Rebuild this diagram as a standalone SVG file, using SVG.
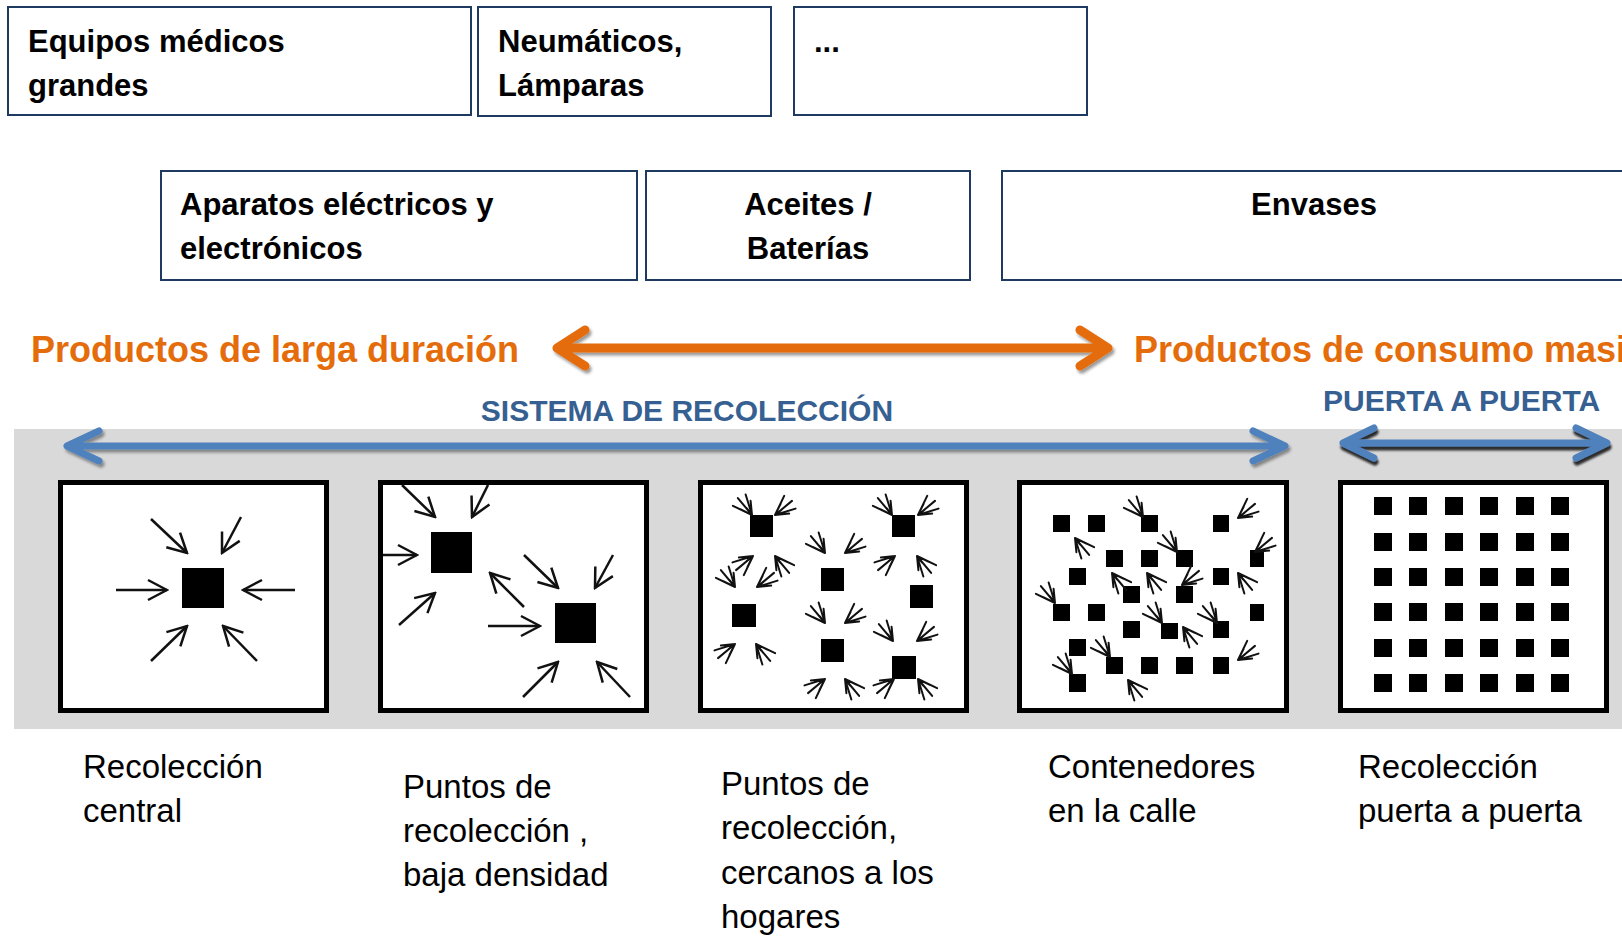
<svg xmlns="http://www.w3.org/2000/svg" xmlns:xlink="http://www.w3.org/1999/xlink" width="1622" height="936" viewBox="0 0 1622 936">
<style>
.box{fill:#fff;stroke:#1F3A60;stroke-width:2}
.bt{font-family:"Liberation Sans",Arial,sans-serif;font-weight:bold;font-size:31px;fill:#000}
.ot{font-family:"Liberation Sans",Arial,sans-serif;font-weight:bold;font-size:36px;fill:#E46C0A}
.st{font-family:"Liberation Sans",Arial,sans-serif;font-weight:bold;font-size:30px;fill:#376092}
.lb{font-family:"Liberation Sans",Arial,sans-serif;font-size:33px;fill:#000}
.panel{fill:#fff;stroke:#000;stroke-width:5}
.sq{fill:#000}
.ar{stroke:#111;stroke-width:2.5;fill:none;marker-end:url(#ah)}
.fan{stroke:#111;stroke-width:2;fill:none;stroke-linecap:round}
.oa{stroke:#E46C0A;stroke-width:9;fill:none;stroke-linecap:round;stroke-linejoin:round}
.ba{stroke:#4F81BD;stroke-width:7;fill:none;stroke-linecap:round;stroke-linejoin:round}
</style>
<defs>
<marker id="ah" markerUnits="userSpaceOnUse" viewBox="-22 -13 24 26" refX="0" refY="0" markerWidth="24" markerHeight="26" orient="auto">
<path d="M-19,-10 L0,0 L-19,10" fill="none" stroke="#111" stroke-width="2.5"/>
</marker>
<path id="fan" class="fan" d="M-19,-10 L0,0 M-22,-2 L0,0 M-20,7 L0,0 M-11,-9 L0,0 M-12,4 L0,0 M-8,-1 L0,0"/>
<filter id="sh" x="-5%" y="-60%" width="110%" height="220%">
<feDropShadow dx="2" dy="3" stdDeviation="1.5" flood-color="#000" flood-opacity="0.4"/>
</filter>
<filter id="sh2" x="-5%" y="-60%" width="110%" height="220%">
<feDropShadow dx="1" dy="4" stdDeviation="1" flood-color="#000" flood-opacity="0.8"/>
</filter>
</defs>

<rect x="14" y="429" width="1608" height="300" fill="#D9D9D9"/>

<g id="box-equipos">
<rect class="box" x="8" y="7" width="463" height="108"/>
<text class="bt" x="28" y="52">Equipos médicos</text>
<text class="bt" x="28" y="96">grandes</text>
</g>
<g id="box-neumaticos">
<rect class="box" x="478" y="7" width="293" height="109"/>
<text class="bt" x="498" y="52">Neumáticos,</text>
<text class="bt" x="498" y="96">Lámparas</text>
</g>
<g id="box-etc">
<rect class="box" x="794" y="7" width="293" height="108"/>
<text class="bt" x="814" y="52">...</text>
</g>
<g id="box-aparatos">
<rect class="box" x="161" y="171" width="476" height="109"/>
<text class="bt" x="180" y="215">Aparatos eléctricos y</text>
<text class="bt" x="180" y="259">electrónicos</text>
</g>
<g id="box-aceites">
<rect class="box" x="646" y="171" width="324" height="109"/>
<text class="bt" x="808" y="215" text-anchor="middle">Aceites /</text>
<text class="bt" x="808" y="259" text-anchor="middle">Baterías</text>
</g>
<g id="box-envases">
<rect class="box" x="1002" y="171" width="626" height="109"/>
<text class="bt" x="1314" y="215" text-anchor="middle">Envases</text>
</g>

<g id="label-larga">
<text class="ot" x="31" y="362">Productos de larga duración</text>
</g>
<g id="label-consumo">
<text class="ot" x="1134" y="362">Productos de consumo masivo</text>
</g>
<g id="label-sistema">
<text class="st" x="687" y="421" text-anchor="middle">SISTEMA DE RECOLECCIÓN</text>
</g>
<g id="label-puerta">
<text class="st" x="1323" y="411">PUERTA A PUERTA</text>
</g>

<g id="connectors">
<g filter="url(#sh)">
<path class="oa" d="M558,348 L1107,348 M585,330 L557,348 L585,366 M1080,330 L1108,348 L1080,366"/>
</g>
<g filter="url(#sh)">
<path class="ba" d="M68,446 L1284,446 M99,431 L67,446 L99,461 M1253,431 L1285,446 L1253,461"/>
</g>
<g filter="url(#sh2)">
<path class="ba" d="M1344,443 L1606,443 M1374,428 L1343,443 L1374,458 M1576,428 L1607,443 L1576,458"/>
</g>
</g>

<g id="panel-central">
<rect class="panel" x="60.5" y="482.5" width="266" height="228"/>
<rect class="sq" x="182" y="568" width="42" height="40"/>
<path class="ar" d="M116,590 L167,590"/>
<path class="ar" d="M295,590 L243,590"/>
<path class="ar" d="M151,519 L187,553"/>
<path class="ar" d="M241,517 L222,553"/>
<path class="ar" d="M151,661 L187,626"/>
<path class="ar" d="M257,661 L223,626"/>
</g>

<g id="panel-baja">
<rect class="panel" x="380.5" y="482.5" width="266" height="228"/>
<rect class="sq" x="431" y="532" width="41" height="41"/>
<rect class="sq" x="555" y="603" width="41" height="40"/>
<path class="ar" d="M402,485 L435,517"/>
<path class="ar" d="M488,485 L472,517"/>
<path class="ar" d="M383,555 L417,555"/>
<path class="ar" d="M399,625 L435,593"/>
<path class="ar" d="M524,607 L490,573"/>
<path class="ar" d="M524,555 L558,588"/>
<path class="ar" d="M613,555 L595,588"/>
<path class="ar" d="M488,626 L540,626"/>
<path class="ar" d="M523,697 L558,662"/>
<path class="ar" d="M630,697 L597,662"/>
</g>

<g id="panel-cercanos">
<rect class="panel" x="700.5" y="482.5" width="266" height="228"/>
<rect class="sq" x="750" y="515" width="23" height="22"/>
<rect class="sq" x="892" y="515" width="23" height="22"/>
<rect class="sq" x="821" y="568" width="23" height="23"/>
<rect class="sq" x="910" y="585" width="23" height="23"/>
<rect class="sq" x="732" y="604" width="24" height="23"/>
<rect class="sq" x="821" y="639" width="23" height="23"/>
<rect class="sq" x="892" y="656" width="24" height="23"/>
<use xlink:href="#fan" transform="translate(752,515) rotate(45)"/>
<use xlink:href="#fan" transform="translate(775,515) rotate(135)"/>
<use xlink:href="#fan" transform="translate(892,515) rotate(45)"/>
<use xlink:href="#fan" transform="translate(918,515) rotate(135)"/>
<use xlink:href="#fan" transform="translate(825,553) rotate(45)"/>
<use xlink:href="#fan" transform="translate(845,553) rotate(135)"/>
<use xlink:href="#fan" transform="translate(895,556) rotate(315)"/>
<use xlink:href="#fan" transform="translate(917,556) rotate(225)"/>
<use xlink:href="#fan" transform="translate(753,556) rotate(315)"/>
<use xlink:href="#fan" transform="translate(775,556) rotate(225)"/>
<use xlink:href="#fan" transform="translate(735,587) rotate(45)"/>
<use xlink:href="#fan" transform="translate(757,587) rotate(135)"/>
<use xlink:href="#fan" transform="translate(825,623) rotate(45)"/>
<use xlink:href="#fan" transform="translate(845,623) rotate(135)"/>
<use xlink:href="#fan" transform="translate(893,641) rotate(45)"/>
<use xlink:href="#fan" transform="translate(917,641) rotate(135)"/>
<use xlink:href="#fan" transform="translate(735,644) rotate(315)"/>
<use xlink:href="#fan" transform="translate(756,644) rotate(225)"/>
<use xlink:href="#fan" transform="translate(825,679) rotate(315)"/>
<use xlink:href="#fan" transform="translate(845,679) rotate(225)"/>
<use xlink:href="#fan" transform="translate(894,679) rotate(315)"/>
<use xlink:href="#fan" transform="translate(918,679) rotate(225)"/>
</g>

<g id="panel-contenedores">
<rect class="panel" x="1019.5" y="482.5" width="267" height="228"/>
<rect class="sq" x="1053" y="515" width="17" height="17"/>
<rect class="sq" x="1088" y="515" width="17" height="17"/>
<rect class="sq" x="1141" y="515" width="17" height="17"/>
<rect class="sq" x="1213" y="515" width="16" height="17"/>
<rect class="sq" x="1106" y="550" width="17" height="17"/>
<rect class="sq" x="1141" y="550" width="17" height="17"/>
<rect class="sq" x="1176" y="550" width="17" height="17"/>
<rect class="sq" x="1250" y="550" width="14" height="17"/>
<rect class="sq" x="1069" y="568" width="17" height="17"/>
<rect class="sq" x="1123" y="586" width="17" height="17"/>
<rect class="sq" x="1176" y="586" width="17" height="17"/>
<rect class="sq" x="1213" y="568" width="16" height="17"/>
<rect class="sq" x="1053" y="604" width="17" height="17"/>
<rect class="sq" x="1088" y="604" width="17" height="17"/>
<rect class="sq" x="1250" y="604" width="14" height="17"/>
<rect class="sq" x="1123" y="621" width="17" height="17"/>
<rect class="sq" x="1161" y="623" width="17" height="16"/>
<rect class="sq" x="1213" y="621" width="16" height="17"/>
<rect class="sq" x="1069" y="639" width="17" height="17"/>
<rect class="sq" x="1106" y="657" width="17" height="17"/>
<rect class="sq" x="1141" y="657" width="17" height="17"/>
<rect class="sq" x="1176" y="657" width="17" height="17"/>
<rect class="sq" x="1213" y="657" width="16" height="17"/>
<rect class="sq" x="1069" y="674" width="17" height="18"/>
<use xlink:href="#fan" transform="translate(1143,517) rotate(45)"/>
<use xlink:href="#fan" transform="translate(1238,518) rotate(135)"/>
<use xlink:href="#fan" transform="translate(1075,538) rotate(225)"/>
<use xlink:href="#fan" transform="translate(1177,552) rotate(45)"/>
<use xlink:href="#fan" transform="translate(1255,552) rotate(135)"/>
<use xlink:href="#fan" transform="translate(1112,573) rotate(225)"/>
<use xlink:href="#fan" transform="translate(1147,573) rotate(225)"/>
<use xlink:href="#fan" transform="translate(1182,585) rotate(135)"/>
<use xlink:href="#fan" transform="translate(1238,573) rotate(225)"/>
<use xlink:href="#fan" transform="translate(1055,603) rotate(45)"/>
<use xlink:href="#fan" transform="translate(1162,623) rotate(45)"/>
<use xlink:href="#fan" transform="translate(1183,627) rotate(225)"/>
<use xlink:href="#fan" transform="translate(1217,623) rotate(45)"/>
<use xlink:href="#fan" transform="translate(1110,657) rotate(45)"/>
<use xlink:href="#fan" transform="translate(1238,660) rotate(135)"/>
<use xlink:href="#fan" transform="translate(1072,674) rotate(45)"/>
<use xlink:href="#fan" transform="translate(1128,680) rotate(225)"/>
</g>

<g id="panel-puerta">
<rect class="panel" x="1340.5" y="482.5" width="266" height="228"/>
<g class="sq">
<rect x="1374" y="497" width="18" height="18"/><rect x="1409" y="497" width="18" height="18"/><rect x="1445" y="497" width="18" height="18"/><rect x="1480" y="497" width="18" height="18"/><rect x="1516" y="497" width="18" height="18"/><rect x="1551" y="497" width="18" height="18"/>
<rect x="1374" y="533" width="18" height="18"/><rect x="1409" y="533" width="18" height="18"/><rect x="1445" y="533" width="18" height="18"/><rect x="1480" y="533" width="18" height="18"/><rect x="1516" y="533" width="18" height="18"/><rect x="1551" y="533" width="18" height="18"/>
<rect x="1374" y="568" width="18" height="18"/><rect x="1409" y="568" width="18" height="18"/><rect x="1445" y="568" width="18" height="18"/><rect x="1480" y="568" width="18" height="18"/><rect x="1516" y="568" width="18" height="18"/><rect x="1551" y="568" width="18" height="18"/>
<rect x="1374" y="603" width="18" height="18"/><rect x="1409" y="603" width="18" height="18"/><rect x="1445" y="603" width="18" height="18"/><rect x="1480" y="603" width="18" height="18"/><rect x="1516" y="603" width="18" height="18"/><rect x="1551" y="603" width="18" height="18"/>
<rect x="1374" y="639" width="18" height="18"/><rect x="1409" y="639" width="18" height="18"/><rect x="1445" y="639" width="18" height="18"/><rect x="1480" y="639" width="18" height="18"/><rect x="1516" y="639" width="18" height="18"/><rect x="1551" y="639" width="18" height="18"/>
<rect x="1374" y="674" width="18" height="18"/><rect x="1409" y="674" width="18" height="18"/><rect x="1445" y="674" width="18" height="18"/><rect x="1480" y="674" width="18" height="18"/><rect x="1516" y="674" width="18" height="18"/><rect x="1551" y="674" width="18" height="18"/>
</g>
</g>

<g id="caption-central">
<text class="lb" x="83" y="778">Recolección</text>
<text class="lb" x="83" y="822">central</text>
</g>
<g id="caption-baja">
<text class="lb" x="403" y="798">Puntos de</text>
<text class="lb" x="403" y="842">recolección ,</text>
<text class="lb" x="403" y="886">baja densidad</text>
</g>
<g id="caption-cercanos">
<text class="lb" x="721" y="795">Puntos de</text>
<text class="lb" x="721" y="839">recolección,</text>
<text class="lb" x="721" y="884">cercanos a los</text>
<text class="lb" x="721" y="928">hogares</text>
</g>
<g id="caption-contenedores">
<text class="lb" x="1048" y="778">Contenedores</text>
<text class="lb" x="1048" y="822">en la calle</text>
</g>
<g id="caption-puerta">
<text class="lb" x="1358" y="778">Recolección</text>
<text class="lb" x="1358" y="822">puerta a puerta</text>
</g>
</svg>
